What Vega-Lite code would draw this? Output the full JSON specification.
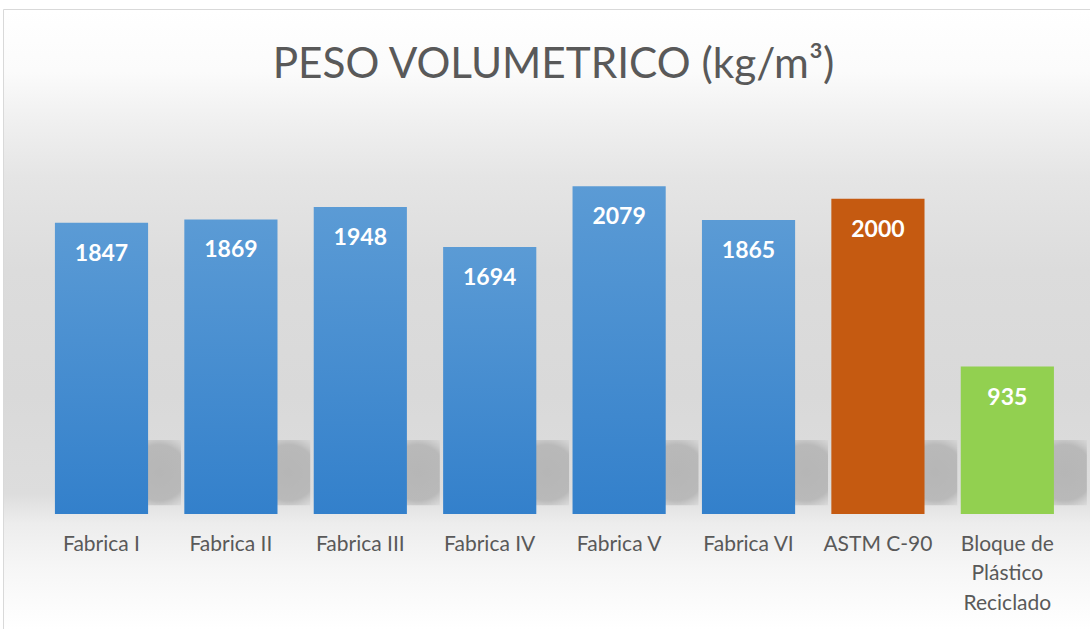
{
  "$schema": "https://vega.github.io/schema/vega-lite/v6.json",
  "autosize": {"type": "none"},
  "padding": {"left": 3, "top": 9, "right": 0, "bottom": 0},
  "width": 1087,
  "height": 620,
  "background": "#ffffff",
  "title": {
    "text": "PESO VOLUMETRICO (kg/m³)",
    "font": "Lato",
    "fontSize": 42.3,
    "fontWeight": "normal",
    "color": "#595959",
    "anchor": "middle",
    "frame": "group",
    "baseline": "alphabetic",
    "offset": -67,
    "dy": 44,
    "dx": 7
  },
  "view": {
    "fill": {
      "gradient": "linear", "x1": 0, "y1": 0, "x2": 0, "y2": 1,
      "stops": [
        {"offset": 0, "color": "#ffffff"},
        {"offset": 0.1, "color": "#fbfbfb"},
        {"offset": 0.17, "color": "#f1f1f1"},
        {"offset": 0.27, "color": "#e5e5e5"},
        {"offset": 0.42, "color": "#dcdcdc"},
        {"offset": 0.62, "color": "#d9d9d9"},
        {"offset": 0.78, "color": "#dddddd"},
        {"offset": 0.83, "color": "#ededed"},
        {"offset": 0.9, "color": "#f6f6f6"},
        {"offset": 1, "color": "#ffffff"}
      ]
    },
    "stroke": "#d9d9d9",
    "strokeWidth": 1
  },
  "data": {
    "values": [
      {"material": "Fabrica I", "valor": 1847, "tipo": "Fabrica"},
      {"material": "Fabrica II", "valor": 1869, "tipo": "Fabrica"},
      {"material": "Fabrica III", "valor": 1948, "tipo": "Fabrica"},
      {"material": "Fabrica IV", "valor": 1694, "tipo": "Fabrica"},
      {"material": "Fabrica V", "valor": 2079, "tipo": "Fabrica"},
      {"material": "Fabrica VI", "valor": 1865, "tipo": "Fabrica"},
      {"material": "ASTM C-90", "valor": 2000, "tipo": "Norma"},
      {"material": "Bloque de Plástico Reciclado", "valor": 935, "tipo": "Plastico"}
    ]
  },
  "encoding": {
    "x": {
      "field": "material",
      "type": "nominal",
      "sort": null,
      "scale": {"paddingInner": 0.28, "paddingOuter": 0.34, "align": 0.59},
      "axis": {
        "title": null,
        "orient": "bottom",
        "offset": -115,
        "domain": false,
        "ticks": false,
        "grid": false,
        "labelAngle": 0,
        "labelFont": "Lato",
        "labelFontSize": 21,
        "labelColor": "#595959",
        "labelPadding": 19,
        "labelLineHeight": 29.5,
        "labelLimit": 0,
        "labelExpr": "datum.label == 'Bloque de Plástico Reciclado' ? ['Bloque de', 'Plástico', 'Reciclado'] : datum.label"
      }
    },
    "y": {
      "field": "valor",
      "type": "quantitative",
      "scale": {"domain": [-730, 3204], "nice": false, "zero": false},
      "axis": null
    }
  },
  "layer": [
    {
      "mark": {
        "type": "bar",
        "xOffset": 33,
        "fill": {
          "gradient": "radial", "x1": 0.76, "y1": 0.5, "r1": 0, "x2": 0.76, "y2": 0.5, "r2": 0.5,
          "stops": [
            {"offset": 0, "color": "#b6b6b6"},
            {"offset": 0.6, "color": "#b9b9b9"},
            {"offset": 1, "color": "rgba(217,217,217,0)"}
          ]
        }
      },
      "encoding": {"y": {"datum": 470}, "y2": {"datum": 55}}
    },
    {
      "transform": [{"filter": "datum.tipo == 'Fabrica'"}],
      "mark": {
        "type": "bar",
        "fill": {
          "gradient": "linear", "x1": 0, "y1": 0, "x2": 0, "y2": 1,
          "stops": [
            {"offset": 0, "color": "#5b9bd5"},
            {"offset": 1, "color": "#3380cb"}
          ]
        }
      },
      "encoding": {"y2": {"datum": 0}}
    },
    {
      "transform": [{"filter": "datum.tipo != 'Fabrica'"}],
      "mark": {"type": "bar"},
      "encoding": {
        "y2": {"datum": 0},
        "color": {
          "field": "tipo",
          "type": "nominal",
          "scale": {"domain": ["Norma", "Plastico"], "range": ["#c55a11", "#92d050"]},
          "legend": null
        }
      }
    },
    {
      "mark": {
        "type": "text",
        "font": "Lato",
        "fontSize": 23,
        "fontWeight": "bold",
        "color": "#ffffff",
        "baseline": "middle",
        "dy": 31
      },
      "encoding": {"text": {"field": "valor", "type": "quantitative", "format": "d"}}
    }
  ]
}
